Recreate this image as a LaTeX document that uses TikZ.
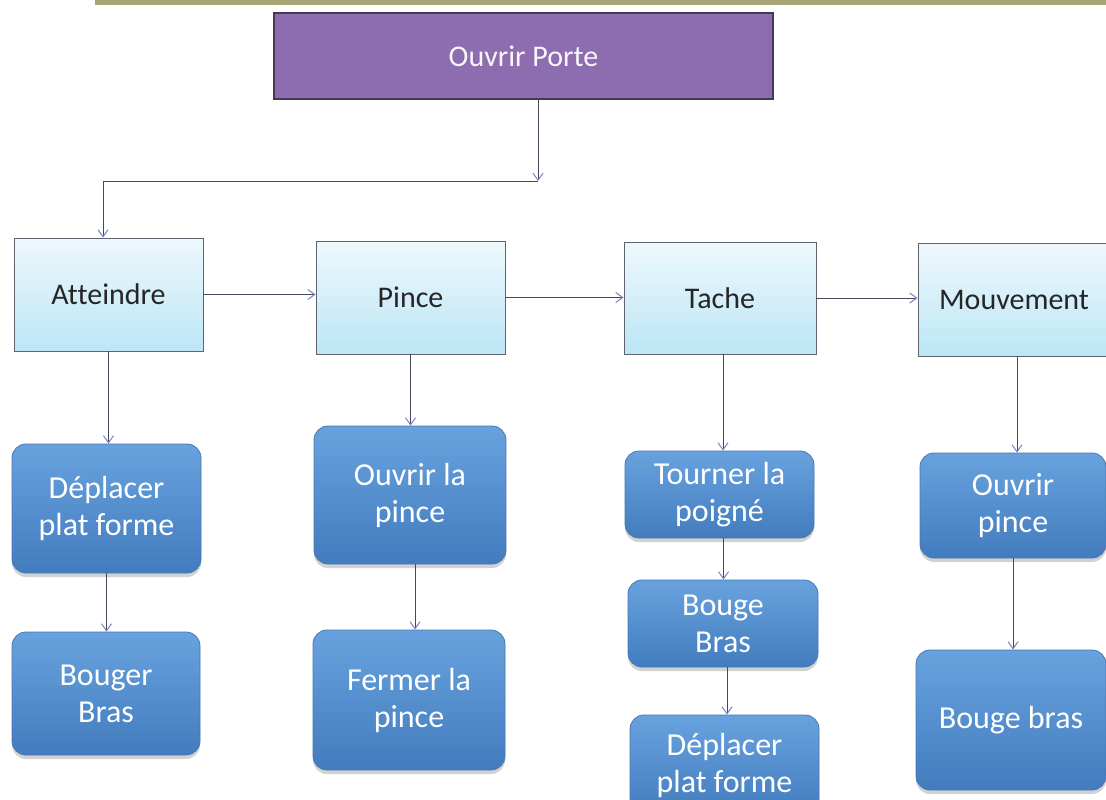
\documentclass[tikz,border=0pt]{standalone}
\usepackage{fontspec}
\setmainfont{Carlito}[Ligatures=NoCommon]
\usetikzlibrary{arrows.meta,shadows}

\definecolor{purplefill}{RGB}{142,108,176}
\definecolor{purpleedge}{RGB}{72,56,88}
\definecolor{paletop}{RGB}{238,248,252}
\definecolor{palebot}{RGB}{188,230,246}
\definecolor{paleedge}{RGB}{95,100,110}
\definecolor{bluetop}{RGB}{104,162,222}
\definecolor{bluebot}{RGB}{66,124,190}
\definecolor{blueedge}{RGB}{70,120,180}
\definecolor{linkcol}{RGB}{70,72,90}
\definecolor{tipcol}{RGB}{120,130,190}
\definecolor{stripcol}{RGB}{168,166,118}

\tikzset{
  goal/.style={draw=purpleedge, line width=1.2pt, fill=purplefill,
    minimum width=499pt, minimum height=86pt, inner sep=0pt,
    text=white!94!purplefill, font=\fontsize{30}{34}\selectfont},
  phase/.style={draw=paleedge, line width=0.8pt, top color=paletop,
    bottom color=palebot, inner sep=0pt,
    font=\fontsize{30}{34}\selectfont, text=black!85},
  action/.style={draw=blueedge, line width=0.8pt, rounded corners=14pt,
    top color=bluetop, bottom color=bluebot, inner sep=0pt, align=center,
    text=white, font=\fontsize{32}{37}\selectfont,
    drop shadow={shadow xshift=0pt, shadow yshift=-4pt, fill=black!35, opacity=0.5}},
  link/.style={draw=linkcol, line width=1pt,
    -{Straight Barb[length=7pt,width=10pt,line width=1pt,color=tipcol]}}
}

\begin{document}
\begin{tikzpicture}[x=1pt,y=-1pt]
  \useasboundingbox (0,0) rectangle (1106,800);
  \fill[white] (0,0) rectangle (1106,800);
  % scanner edge along the top
  \fill[stripcol] (95,0) rectangle (1106,5);

  % goal
  \node[goal] (goal) at (523.5,56) {Ouvrir Porte};

  % phases
  \node[phase, minimum width=189pt, minimum height=113pt] (att) at (108.5,294.5) {Atteindre};
  \node[phase, minimum width=189pt, minimum height=113pt] (pin) at (410.5,297.5) {Pince};
  \node[phase, minimum width=192pt, minimum height=112pt] (tac) at (720,298) {Tache};
  \node[phase, minimum width=192pt, minimum height=113pt] (mou) at (1014,299.5) {Mouvement};

  % actions, column 1
  \node[action, minimum width=189pt, minimum height=129pt] (d1) at (106.5,508.5) {Déplacer\\plat forme};
  \node[action, minimum width=188pt, minimum height=123pt] (b1) at (106,693.5) {Bouger\\Bras};
  % column 2
  \node[action, minimum width=192pt, minimum height=138pt] (o2) at (410,495) {Ouvrir la\\pince};
  \node[action, minimum width=192pt, minimum height=140pt] (f2) at (409,700) {Fermer la\\pince};
  % column 3
  \node[action, minimum width=189pt, minimum height=87pt] (t3) at (719.5,494.5) {Tourner la\\poigné};
  \node[action, minimum width=190pt, minimum height=87pt] (b3) at (723,623.5) {Bouge\\Bras};
  \node[action, minimum width=189pt, minimum height=100pt] (d3) at (724.5,765) {Déplacer\\plat forme};
  % column 4
  \node[action, minimum width=186pt, minimum height=105pt] (o4) at (1013,505.5) {Ouvrir\\pince};
  \node[action, minimum width=190pt, minimum height=140pt] (b4) at (1011,720) {Bouge bras};

  % connectors
  \coordinate (split) at (538,181);
  \draw[link] (goal.south -| split) -- (split);
  \draw[link] (split) -| (att.north -| 103,0);

  \draw[link] (att.east) -- (pin.west |- att.east);
  \draw[link] (pin.east) -- (tac.west |- pin.east);
  \draw[link] (tac.east) -- (mou.west |- tac.east);

  \draw[link] (att.south) -- (att.south |- d1.north);
  \draw[link] (d1.south) -- (d1.south |- b1.north);

  \draw[link] (pin.south) -- (pin.south |- o2.north);
  \draw[link] ([xshift=5pt]o2.south) -- ([xshift=5pt]o2.south |- f2.north);

  \draw[link] ([xshift=3pt]tac.south) -- ([xshift=3pt]tac.south |- t3.north);
  \draw[link] ([xshift=4pt]t3.south) -- ([xshift=4pt]t3.south |- b3.north);
  \draw[link] ([xshift=4pt]b3.south) -- ([xshift=4pt]b3.south |- d3.north);

  \draw[link] ([xshift=3pt]mou.south) -- ([xshift=3pt]mou.south |- o4.north);
  \draw[link] (o4.south) -- (o4.south |- b4.north);
\end{tikzpicture}
\end{document}
